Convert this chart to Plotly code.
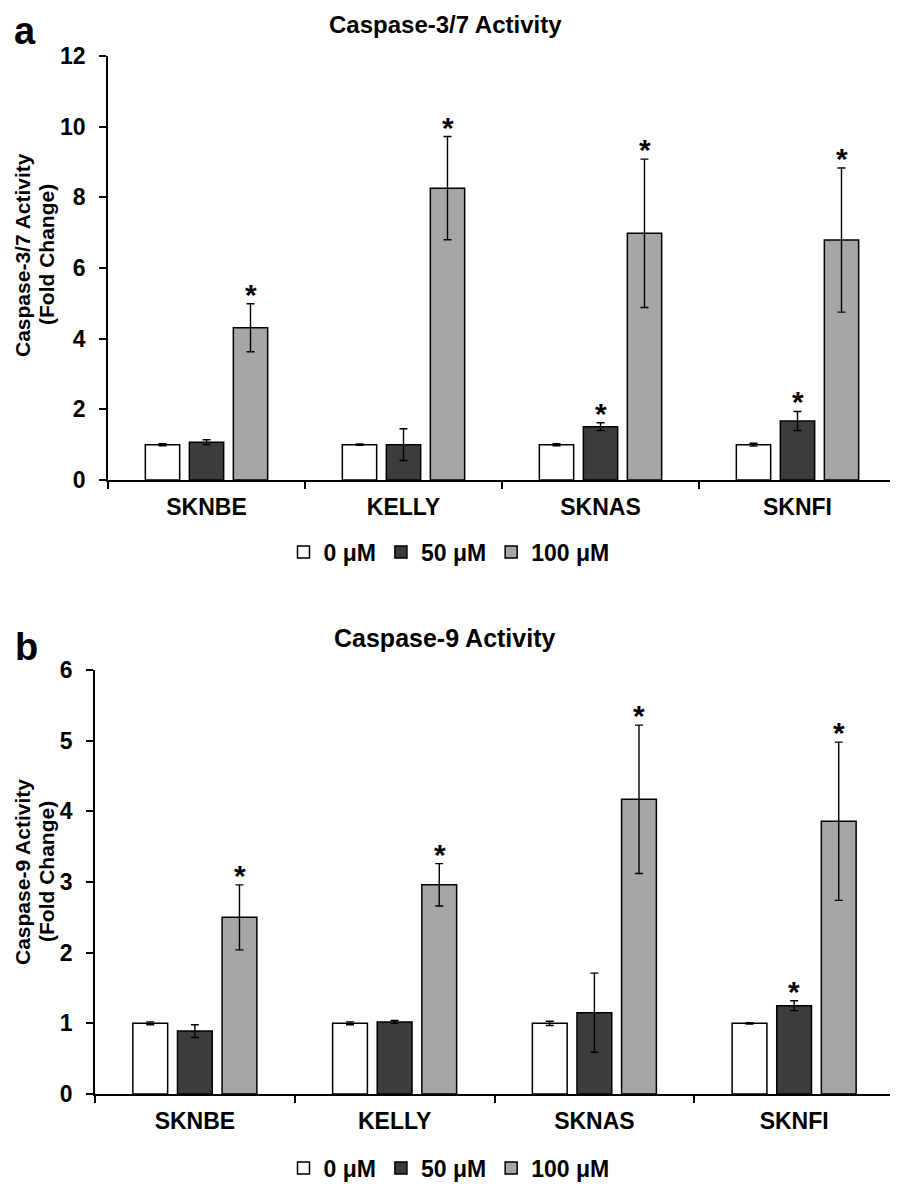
import plotly.graph_objects as go

cell_lines = ["SKNBE", "KELLY", "SKNAS", "SKNFI"]
doses = ["0 μM", "50 μM", "100 μM"]
colors = ["#ffffff", "#3c3c3c", "#a6a6a6"]

# panel a: caspase-3/7
c37_mean = [
    [1.00, 1.00, 1.00, 1.00],
    [1.07, 1.00, 1.51, 1.67],
    [4.31, 8.26, 6.98, 6.79],
]
c37_err = [
    [0.03, 0.02, 0.03, 0.04],
    [0.07, 0.45, 0.11, 0.27],
    [0.68, 1.46, 2.10, 2.04],
]
c37_sig = [
    [False, False, False, False],
    [False, False, True, True],
    [True, True, True, True],
]

# panel b: caspase-9
c9_mean = [
    [1.00, 1.00, 1.00, 1.00],
    [0.89, 1.02, 1.15, 1.25],
    [2.50, 2.96, 4.17, 3.86],
]
c9_err = [
    [0.02, 0.02, 0.03, 0.01],
    [0.09, 0.02, 0.56, 0.07],
    [0.46, 0.30, 1.05, 1.12],
]
c9_sig = [
    [False, False, False, False],
    [False, False, False, True],
    [True, True, True, True],
]

FONT = "Liberation Sans, Arial, sans-serif"
# page body has an 8px margin, so the figure is 8px smaller than the window
W, H = 890, 1179


def px_x(v):
    return v / W


def px_y(v):
    return 1 - v / H


fig = go.Figure()

panels = [
    dict(mean=c37_mean, err=c37_err, sig=c37_sig, xa="x", ya="y", legend="legend",
         slot=44),
    dict(mean=c9_mean, err=c9_err, sig=c9_sig, xa="x2", ya="y2", legend="legend2",
         slot=45),
]

for p in panels:
    for i, dose in enumerate(doses):
        fig.add_trace(go.Bar(
            x=cell_lines,
            y=p["mean"][i],
            name=dose,
            marker=dict(color=colors[i], line=dict(color="black", width=1.5)),
            error_y=dict(type="data", array=p["err"][i], color="black",
                         thickness=1.4, width=4),
            xaxis=p["xa"],
            yaxis=p["ya"],
            legend=p["legend"],
        ))
        # significance stars above the error bars
        for j, cl in enumerate(cell_lines):
            if p["sig"][i][j]:
                fig.add_annotation(
                    x=cl, y=p["mean"][i][j] + p["err"][i][j],
                    xref=p["xa"], yref=p["ya"],
                    text="*", showarrow=False,
                    xshift=(i - 1) * p["slot"], yshift=-9, yanchor="bottom",
                    font=dict(family=FONT, size=30, color="black", weight="bold"),
                )

axis_common = dict(
    showline=True, linecolor="black", linewidth=1.5,
    showgrid=False, zeroline=False, automargin=False,
    ticks="outside", tickcolor="black", tickwidth=1.5, ticklen=7,
)
xtick_font = dict(family=FONT, size=23, color="black", weight="bold")
ytick_font = dict(family=FONT, size=23, color="black", weight="bold")
legend_font = dict(family=FONT, size=23, color="black", weight="bold")

fig.update_layout(
    width=W, height=H,
    margin=dict(l=0, r=0, t=0, b=0, autoexpand=False),
    paper_bgcolor="white", plot_bgcolor="white",
    barmode="group", bargap=0.33, bargroupgap=0.22,
    font=dict(family=FONT, color="black"),
    xaxis=dict(domain=[px_x(100), px_x(888)], anchor="y", tickson="boundaries",
               tickfont=xtick_font, ticklabelstandoff=6, **axis_common),
    yaxis=dict(domain=[px_y(472), px_y(48)], anchor="x", range=[0, 12],
               dtick=2, tickfont=ytick_font, ticklabelstandoff=9, **axis_common),
    xaxis2=dict(domain=[px_x(87), px_x(886)], anchor="y2", tickson="boundaries",
                tickfont=xtick_font, ticklabelstandoff=6, **axis_common),
    yaxis2=dict(domain=[px_y(1086), px_y(662)], anchor="x2", range=[0, 6],
                dtick=1, tickfont=ytick_font, ticklabelstandoff=9, **axis_common),
    legend=dict(orientation="h", x=px_x(441), xanchor="center", y=px_y(544),
                yanchor="middle", font=legend_font, itemwidth=30),
    legend2=dict(orientation="h", x=px_x(441), xanchor="center", y=px_y(1160),
                 yanchor="middle", font=legend_font, itemwidth=30),
    showlegend=True,
)

# titles, y-axis titles and panel letters
texts = [
    ("Caspase-3/7 Activity", 437, 16, 24, 0),
    ("Caspase-9 Activity", 436, 630, 25, 0),
    ("a", 17, 23, 38, 0),
    ("b", 18, 639, 38, 0),
    ("Caspase-3/7 Activity", 14, 247, 21, -90),
    ("(Fold Change)", 38, 247, 21, -90),
    ("Caspase-9 Activity", 14, 864, 21, -90),
    ("(Fold Change)", 38, 864, 21, -90),
]
for txt, tx, ty, size, angle in texts:
    fig.add_annotation(x=px_x(tx), y=px_y(ty), xref="paper", yref="paper",
                       xanchor="center", yanchor="middle", borderpad=0,
                       text=txt, showarrow=False, textangle=angle,
                       font=dict(family=FONT, size=size, weight="bold"))

fig.write_html("out.html")
